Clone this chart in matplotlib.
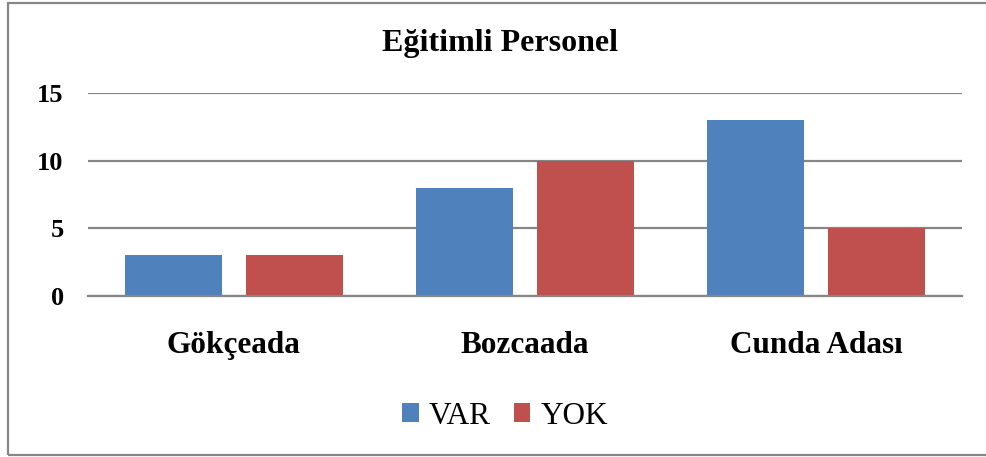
import matplotlib.pyplot as plt
import numpy as np
from matplotlib.patches import Rectangle

categories = ['Gökçeada', 'Bozcaada', 'Cunda Adası']
var_values = [3, 8, 13]
yok_values = [3, 10, 5]
series_names = ['VAR', 'YOK']
yticks = [0, 5, 10, 15]

plt.rcParams['font.family'] = ['Liberation Serif', 'DejaVu Serif']

fig = plt.figure(figsize=(9.87, 4.57), dpi=100)
ax = fig.add_axes([88 / 987, 1 - 296 / 457, (962 - 88) / 987, (296 - 93) / 457])

x = np.arange(len(categories))
w = 0.333
off = 0.208
ax.bar(x - off, var_values, w, color='#4F81BD', label=series_names[0], zorder=3)
ax.bar(x + off, yok_values, w, color='#C0504D', label=series_names[1], zorder=3)

ax.set_xlim(-0.5, len(categories) - 0.5)
ax.set_ylim(0, 15)
ax.set_yticks(yticks)
ax.set_yticklabels([str(t) for t in yticks], fontsize=19, fontweight='bold')
ax.set_xticks(x)
ax.set_xticklabels(categories, fontsize=22.5, fontweight='bold')
ax.tick_params(axis='both', length=0)
ax.tick_params(axis='x', pad=25.5)
ax.tick_params(axis='y', pad=17.5)
ax.grid(axis='y', color='#868686', linewidth=1.6, zorder=0)
ax.set_axisbelow(True)
for s in ['top', 'right', 'left']:
    ax.spines[s].set_visible(False)
ax.spines['bottom'].set_color('#868686')
ax.spines['bottom'].set_linewidth(1.6)
ax.spines['bottom'].set_zorder(4)

fig.text(500.5 / 987, 1 - 44 / 457, 'Eğitimli Personel', ha='center', va='center',
         fontsize=23, fontweight='bold')

leg = fig.legend(loc='center', bbox_to_anchor=(505 / 987, 1 - 416 / 457), ncol=2,
                 frameon=False, fontsize=22.5, handlelength=0.52, handleheight=0.52,
                 handletextpad=0.32, columnspacing=0.75)

# outer chart border (right edge is cropped in the reference)
fig.patches.append(Rectangle((8 / 987, 2 / 457), 1.0, 452 / 457,
                             transform=fig.transFigure, fill=False,
                             edgecolor='#868686', linewidth=1.6))

fig.savefig('out.png', dpi=100)
